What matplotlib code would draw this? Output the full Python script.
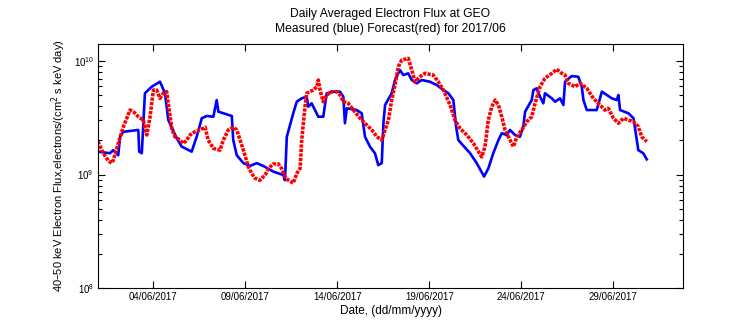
import numpy as np
import matplotlib
matplotlib.use('Agg')
import matplotlib.pyplot as plt
import matplotlib.dates as mdates
from matplotlib.ticker import LogLocator, NullFormatter

plt.rcParams['font.family'] = ['Liberation Sans', 'DejaVu Sans']

# day of June 2017 (1.0 = 01/06 00:00) and flux in units of 1e9
blue_day = [1.00, 1.65, 1.83, 2.10, 2.20, 2.38, 3.19, 3.24, 3.38, 3.55, 3.92, 4.37, 4.64, 4.82, 5.28, 5.55,
            6.09, 6.36, 6.64, 6.91, 7.27, 7.45, 7.54, 8.27, 8.35, 8.54, 8.90, 9.26, 9.63, 9.98, 10.53, 11.07,
            11.16, 11.26, 11.61, 11.80, 12.07, 12.34, 12.43, 12.61, 12.97, 13.24, 13.43, 13.79, 14.15, 14.33,
            14.42, 14.52, 15.06, 15.33, 15.51, 15.78, 16.05, 16.23, 16.42, 16.51, 16.60, 16.96, 17.14, 17.41,
            17.59, 17.86, 18.05, 18.32, 18.59, 19.04, 19.41, 19.77, 20.04, 20.31, 20.46, 20.58, 21.22, 21.58,
            21.98, 22.21, 22.48, 22.76, 22.94, 23.21, 23.39, 23.66, 23.93, 24.11, 24.21, 24.57, 24.66, 24.84,
            25.02, 25.20, 25.29, 25.66, 25.84, 26.11, 26.29, 26.38, 26.74, 27.10, 27.29, 27.38, 27.56, 28.10,
            28.38, 28.92, 29.19, 29.28, 29.37, 29.83, 30.10, 30.28, 30.36, 30.63, 30.82]
blue_flux = [1.59, 1.54, 1.64, 1.48, 2.15, 2.38, 2.47, 1.59, 1.54, 5.20, 5.94, 6.57, 5.20, 3.02, 2.08, 1.76,
             1.59, 2.15, 3.13, 3.28, 3.23, 4.53, 3.58, 3.28, 2.01, 1.48, 1.26, 1.19, 1.26, 1.19, 1.06, 0.99,
             0.89, 2.15, 3.46, 4.38, 4.69, 4.85, 3.96, 4.24, 3.23, 3.23, 5.20, 5.37, 5.37, 4.85,
             2.83, 3.83, 3.70, 3.46, 2.15, 1.76, 1.54, 1.21, 1.26, 2.83, 4.10, 5.20, 6.80, 8.33,
             7.52, 7.79, 6.80, 6.36, 6.80, 6.57, 6.14, 5.55, 5.20, 4.53, 2.64, 2.01, 1.54, 1.26,
             0.96, 1.13, 1.54, 2.01, 2.31, 2.23, 2.47, 2.23, 2.15, 2.64, 3.58, 4.53, 5.55, 5.75,
             4.85, 4.24, 5.20, 4.69, 4.38, 4.69, 4.10, 6.57, 7.37, 7.27, 5.94, 4.53, 3.70, 3.70,
             5.37, 4.69, 4.53, 5.02, 3.70, 3.46, 3.13, 2.01, 1.64, 1.54, 1.36]

red_day = [1.00, 1.29, 1.56, 1.74, 1.83, 2.10, 2.38, 2.56, 2.74, 2.92, 3.19, 3.46, 3.65, 3.83, 3.92, 4.01,
           4.19, 4.37, 4.55, 4.73, 4.91, 5.01, 5.18, 5.46, 5.64, 5.82, 6.00, 6.27, 6.54, 6.82, 6.99, 7.27,
           7.63, 7.81, 8.08, 8.35, 8.54, 8.72, 8.90, 9.17, 9.35, 9.53, 9.80, 10.08, 10.26, 10.53, 10.80,
           10.98, 11.16, 11.34, 11.61, 11.80, 11.98, 12.02, 12.07, 12.16, 12.25, 12.34, 12.52, 12.70,
           12.89, 12.97, 13.07, 13.24, 13.43, 13.70, 13.97, 14.15, 14.33, 14.60, 14.88, 15.24, 15.60,
           15.88, 16.15, 16.42, 16.60, 16.78, 16.96, 17.14, 17.32, 17.51, 17.86, 18.05, 18.23, 18.50,
           18.77, 19.22, 19.49, 19.77, 20.13, 20.40, 20.67, 21.04, 21.40, 21.85, 22.03, 22.21, 22.40,
           22.58, 22.76, 22.94, 23.12, 23.39, 23.57, 23.76, 24.03, 24.30, 24.57, 24.75, 25.02, 25.29,
           25.66, 25.93, 26.20, 26.38, 26.56, 26.92, 27.20, 27.56, 27.92, 28.28, 28.55, 28.73, 29.01,
           29.28, 29.55, 29.83, 30.10, 30.36, 30.55, 30.82]
red_flux = [1.95, 1.54, 1.32, 1.26, 1.34, 1.88, 2.64, 3.13, 3.70, 3.58, 3.23, 3.02, 2.23, 3.23, 4.24, 5.55,
            5.55, 4.69, 5.20, 5.37, 3.34, 2.55, 2.15, 2.01, 1.88, 2.01, 2.23, 2.38, 2.47, 2.61, 2.01, 1.70,
            1.64, 2.01, 2.47, 2.61, 2.47, 2.01, 1.64, 1.17, 1.02, 0.93, 0.89, 0.99, 1.13, 1.24, 1.24,
            1.13, 0.96, 0.89, 0.84, 1.02, 1.13, 1.43, 2.01, 2.83, 3.96, 5.20, 5.37, 5.55,
            5.94, 6.80, 5.55, 4.38, 5.02, 5.37, 5.37, 5.02, 4.38, 4.24, 3.70, 3.13, 2.73,
            2.47, 2.15, 2.01, 2.47, 3.02, 4.53, 6.14, 8.91, 10.2, 10.56, 8.33, 6.57, 7.27,
            7.79, 7.52, 6.57, 5.55, 4.10, 3.02, 2.55, 2.23, 1.88, 1.43, 1.76, 3.02, 3.96,
            4.53, 4.10, 3.23, 2.47, 2.01, 1.76, 2.15, 2.47, 2.92, 3.23, 4.24, 5.94, 7.04,
            7.79, 8.45, 7.79, 7.52, 6.36, 5.94, 6.36, 5.75, 4.69, 4.10, 3.70, 3.83, 3.13,
            2.83, 3.13, 3.02, 2.92, 2.64, 2.15, 1.95]

tick_days = [4, 9, 14, 19, 24, 29]


def to_dates(days):
    return np.datetime64('2017-06-01T00:00') + (np.asarray(days) - 1) * np.timedelta64(86400, 's')


fig = plt.figure(figsize=(7.56, 3.24), dpi=100)
ax = fig.add_axes([98 / 756, 1 - 288 / 324, 585 / 756, 244 / 324])

ax.plot(to_dates(blue_day), np.asarray(blue_flux) * 1e9, color='#0000ff', lw=1.9)
ax.plot(to_dates(red_day), np.asarray(red_flux) * 1e9, color='#ff0000', lw=2.6,
        ls=(0, (0.9, 0.35)), dash_capstyle='butt')

ax.set_yscale('log')
ax.set_ylim(1e8, 10 ** 10.15)
ax.set_xlim(to_dates([1.0])[0], to_dates([32.79])[0])
ax.set_xticks(to_dates(tick_days))
ax.xaxis.set_major_formatter(mdates.DateFormatter('%d/%m/%Y'))
ax.yaxis.set_major_locator(LogLocator(base=10, numticks=5))
ax.yaxis.set_minor_locator(LogLocator(base=10, subs=np.arange(2, 10), numticks=20))
ax.yaxis.set_minor_formatter(NullFormatter())

ax.tick_params(which='both', direction='in', top=True, right=True, labelsize=7, width=0.8)
ax.tick_params(which='major', length=5, pad=3)
ax.tick_params(which='minor', length=3)
for s in ax.spines.values():
    s.set_linewidth(0.8)

ax.set_xlabel('Date, (dd/mm/yyyy)', fontsize=8.5, labelpad=2)
ax.set_ylabel('40\u201350 keV Electron Flux,electrons/(cm$^2$ s keV day)', fontsize=8, labelpad=4)
fig.text(0.5165, 0.958, 'Daily Averaged Electron Flux at GEO', ha='center', va='center', fontsize=8.7)
fig.text(0.5165, 0.912, 'Measured (blue) Forecast(red) for 2017/06', ha='center', va='center', fontsize=8.7)

fig.savefig('out.png', dpi=100)
